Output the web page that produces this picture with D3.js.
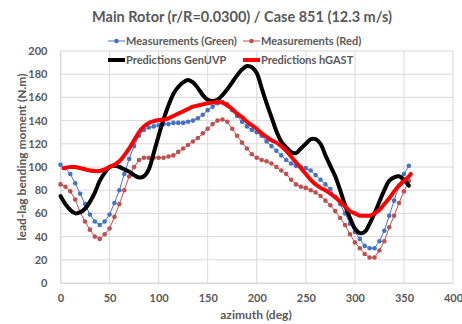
<!DOCTYPE html>
<html><head><meta charset="utf-8">
<script src="https://cdn.jsdelivr.net/npm/d3@7"></script>
<style>
html,body{margin:0;padding:0;background:#fff;}
svg{display:block;}
text{font-family:Lato,"Open Sans",sans-serif;fill:#595959;}
</style></head>
<body><svg id="c" width="462" height="324"></svg>
<script>
const title = "Main Rotor (r/R=0.0300) / Case 851 (12.3 m/s)";
const xTitle = "azimuth (deg)";
const yTitle = "lead-lag bending moment (N.m)";
const xTicks = [0,50,100,150,200,250,300,350,400];
const yTicks = [0,20,40,60,80,100,120,140,160,180,200];

const azMeas = [0,5,10,15,20,25,30,35,40,45,50,55,60,65,70,75,80,85,90,95,100,105,110,115,120,125,130,135,140,145,150,155,160,165,170,175,180,185,190,195,200,205,210,215,220,225,230,235,240,245,250,255,260,265,270,275,280,285,290,295,300,305,310,315,320,325,330,335,340,345,350,355];
const measGreen = [102,99,94,86,77,68,59,53,50,53,59,69,80,94,107,118,127,132,134,135,136,137,137,138,138,138,139,140,142,145,149,152,155,156,154,149,144,139,135,132,130,127,122,118,114,110,106,103,101,100,99,97,93,89,85,81,74,68,60,51,44,38,32,30,30,36,45,58,71,84,94,101];
const measRed = [85,83,79,72,61,53,46,40,38,42,47,57,68,80,92,100,106,108,108,108,108,108,109,110,113,116,119,122,125,129,133,137,140,141,139,133,127,121,116,111,108,106,105,103,100,97,94,89,85,83,82,80,78,75,71,67,62,56,50,42,35,30,25,22,22,28,36,48,58,69,79,88];

const azGen = [0,5,10,15,20,25,30,35,40,45,50,55,60,65,70,75,80,85,90,95,100,105,110,115,120,125,130,135,140,145,150,155,160,165,170,175,180,185,190,195,200,205,210,215,220,225,230,235,240,245,250,255,260,265,270,275,280,285,290,295,300,305,310,315,320,325,330,335,340,345,350,355];
const genUVP = [75,68,63,60,61,64,70,78,88,95,100,101,100,98,96,93,91,92,98,112,127,141,153,163,169,173,175,173,168,162,158,157,158,162,167,173,179,184,187,186,181,168,155,143,131,122,117,113,112,116,120,124,124,120,110,101,92,80,67,56,47,43,44,51,60,70,80,88,91,92,89,84];

const azHg = [3,10,15,20,25,30,35,40,45,50,55,60,65,70,75,80,85,90,95,100,105,110,115,120,125,130,135,140,145,150,155,160,165,170,175,180,185,190,195,200,205,210,215,220,225,230,235,240,245,250,255,260,265,270,275,280,285,290,295,300,305,310,315,320,325,330,335,340,345,350,355,357];
const hGAST = [99,100,100,99,98,97,96.5,96.5,98,100,102,105,110,116,123,130,135,138,139.5,140.5,141,142,144,146,148,150,152,153,154,155,155.5,156,155.5,153,150,146,143,139,136,133,129,126,123,121,118,114,109,104,99,94,89,85,82,80,77,74,70,66,62,60,58,58,58,60,63,68,73,79,84,88,92,94];

const svg = d3.select("#c");
const L = 60.5, R = 453, T = 51, B = 283;
const x = d3.scaleLinear().domain([0,400]).range([L,R]);
const y = d3.scaleLinear().domain([0,200]).range([B,T]);

// gridlines
const g = svg.append("g");
g.selectAll(".hg").data(yTicks).enter().append("line")
  .attr("x1",L).attr("x2",R).attr("y1",d=>y(d)).attr("y2",d=>y(d))
  .attr("stroke","#d9d9d9").attr("stroke-width",1);
g.selectAll(".vg").data(xTicks).enter().append("line")
  .attr("y1",T).attr("y2",B).attr("x1",d=>x(d)).attr("x2",d=>x(d))
  .attr("stroke","#d9d9d9").attr("stroke-width",1);

// axes (labels only)
const xa = svg.append("g").attr("transform",`translate(0,${B})`)
  .call(d3.axisBottom(x).tickValues(xTicks).tickSize(0).tickPadding(11));
xa.select(".domain").attr("stroke","#d9d9d9");
xa.selectAll("text").style("font-size","11px").style("font-weight","bold").attr("fill","#595959");
const ya = svg.append("g").attr("transform",`translate(${L},0)`)
  .call(d3.axisLeft(y).tickValues(yTicks).tickSize(0).tickPadding(13));
ya.select(".domain").attr("stroke","#d9d9d9");
ya.selectAll("text").style("font-size","11px").style("font-weight","bold").attr("fill","#595959");

// series
const lineM = d3.line().x(d=>x(d[0])).y(d=>y(d[1]));
const lineS = d3.line().x(d=>x(d[0])).y(d=>y(d[1])).curve(d3.curveCatmullRom.alpha(0.5));
const gData = d3.zip(azMeas, measGreen), rData = d3.zip(azMeas, measRed);
const blue = "#4472c4", dred = "#c0504d";
svg.append("path").datum(gData).attr("d",lineM).attr("fill","none").attr("stroke",blue).attr("stroke-width",1);
svg.selectAll(".gm").data(gData).enter().append("circle").attr("cx",d=>x(d[0])).attr("cy",d=>y(d[1])).attr("r",2.3).attr("fill",blue);
svg.append("path").datum(rData).attr("d",lineM).attr("fill","none").attr("stroke",dred).attr("stroke-width",1);
svg.selectAll(".rm").data(rData).enter().append("circle").attr("cx",d=>x(d[0])).attr("cy",d=>y(d[1])).attr("r",2.3).attr("fill",dred);
svg.append("path").datum(d3.zip(azGen, genUVP)).attr("d",lineS).attr("fill","none").attr("stroke","#000").attr("stroke-width",4).attr("stroke-linejoin","round").attr("stroke-linecap","round");
svg.append("path").datum(d3.zip(azHg, hGAST)).attr("d",lineS).attr("fill","none").attr("stroke","#ff0000").attr("stroke-width",4).attr("stroke-linejoin","round").attr("stroke-linecap","round");

// title
svg.append("text").attr("x",242).attr("y",22).attr("text-anchor","middle")
  .style("font-size","14.5px").style("font-weight","bold").text(title);
// axis titles
svg.append("text").attr("x",256).attr("y",319).attr("text-anchor","middle")
  .style("font-size","12px").style("font-weight","bold").text(xTitle);
svg.append("text").attr("transform","translate(26,157) rotate(-90)").attr("text-anchor","middle")
  .style("font-size","12px").style("font-weight","bold").text(yTitle);

// legend
const leg = [
  {name:"Measurements (Green)", color:blue, w:1, marker:true, x:108, y:41},
  {name:"Measurements (Red)", color:dred, w:1, marker:true, x:243, y:41},
  {name:"Predictions GenUVP", color:"#000", w:4, marker:false, x:108, y:60},
  {name:"Predictions hGAST", color:"#ff0000", w:4, marker:false, x:243, y:60}
];
const lg = svg.selectAll(".lg").data(leg).enter().append("g");
lg.append("line").attr("x1",d=>d.x).attr("x2",d=>d.x+17).attr("y1",d=>d.y).attr("y2",d=>d.y)
  .attr("stroke",d=>d.color).attr("stroke-width",d=>d.w);
lg.filter(d=>d.marker).append("circle").attr("cx",d=>d.x+8.5).attr("cy",d=>d.y).attr("r",2.3).attr("fill",d=>d.color);
lg.append("text").attr("x",d=>d.x+18).attr("y",d=>d.y+4).style("font-size","11px").style("font-weight","bold").text(d=>d.name);
</script></body></html>
